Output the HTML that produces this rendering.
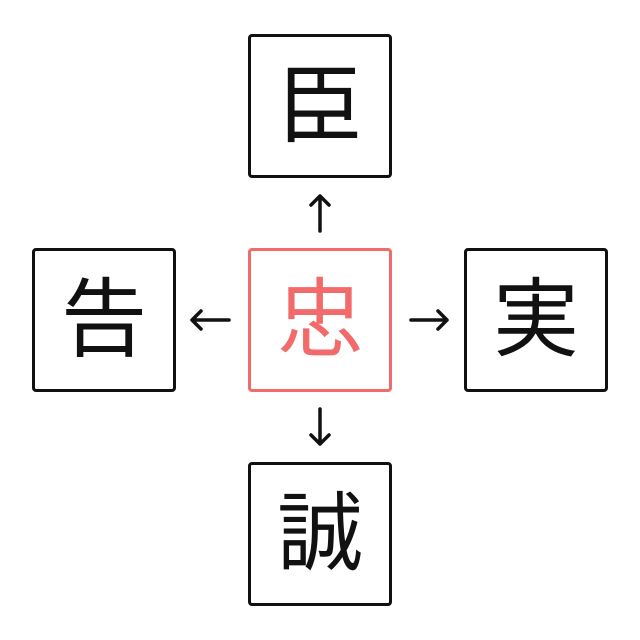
<!DOCTYPE html>
<html><head><meta charset="utf-8"><style>
body{margin:0;width:640px;height:640px;background:#fff;position:relative;overflow:hidden;font-family:"Liberation Sans","Noto Sans CJK JP",sans-serif}
.b{position:absolute;width:138px;height:138px;border:3px solid #111;border-radius:4px;display:flex;align-items:center;justify-content:center;font-size:86px;color:#111;line-height:1}
.c{border:3px solid #f26a6a;color:#f26a6a}
svg{position:absolute;left:0;top:0}
</style></head><body>
<div class="b" style="left:248px;top:34px">臣</div>
<div class="b c" style="left:248px;top:248px">忠</div>
<div class="b" style="left:32px;top:248px">告</div>
<div class="b" style="left:464px;top:248px">実</div>
<div class="b" style="left:248px;top:462px">誠</div>
<svg width="640" height="640" fill="none" stroke="#111" stroke-width="3.5" stroke-linecap="round" stroke-linejoin="round">
<path d="M320 231V196M311 205l9-9 9 9"/>
<path d="M229 320H192M201 311l-9 9 9 9"/>
<path d="M411 320H447M438 311l9 9-9 9"/>
<path d="M320 409V444M311 435l9 9 9-9"/>
</svg>
</body></html>
